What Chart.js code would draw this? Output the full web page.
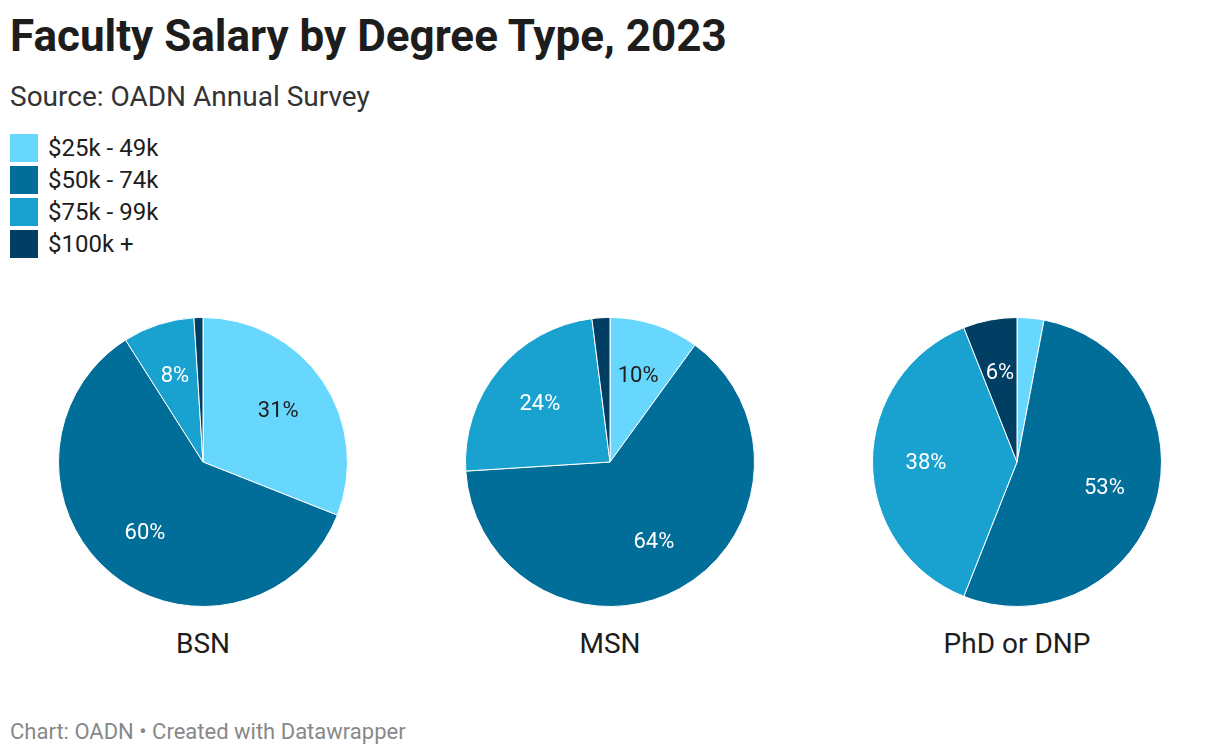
<!DOCTYPE html>
<html>
<head>
<meta charset="utf-8">
<script src="https://cdn.jsdelivr.net/npm/chart.js@4"></script>
<style>
  body { margin: 0; width: 1220px; height: 756px; background: #fff; font-family: Roboto, sans-serif; position: relative; overflow: hidden; }
  h1 { position: absolute; left: 10px; top: 10px; margin: 0; font-size: 44px; font-weight: 700; color: #1d1d1d; line-height: 52px; }
  .sub { position: absolute; left: 10px; top: 80px; font-size: 28px; color: #333; line-height: 34px; }
  .legend { position: absolute; left: 10px; top: 134px; }
  .legend div { height: 32px; display: flex; align-items: flex-start; font-size: 24px; color: #1d1d1d; }
  .legend span.sw { width: 28px; height: 28px; margin-right: 10px; display: inline-block; }
  .legend span.tx { line-height: 28px; }
  canvas { position: absolute; top: 317px; }
  .cat { position: absolute; top: 627px; width: 300px; text-align: center; font-size: 28px; line-height: 34px; color: #1d1d1d; }
  .foot { position: absolute; left: 10px; top: 719px; font-size: 22px; line-height: 26px; color: #888; }
</style>
</head>
<body>
<h1>Faculty Salary by Degree Type, 2023</h1>
<div class="sub">Source: OADN Annual Survey</div>
<div class="legend" id="legend"></div>
<canvas id="c0" width="290" height="290" style="left:58px"></canvas>
<canvas id="c1" width="290" height="290" style="left:465px"></canvas>
<canvas id="c2" width="290" height="290" style="left:872px"></canvas>
<div class="cat" style="left:53px">BSN</div>
<div class="cat" style="left:460px">MSN</div>
<div class="cat" style="left:867px">PhD or DNP</div>
<div class="foot">Chart: OADN • Created with Datawrapper</div>
<script>
const salaryBands = ["$25k - 49k", "$50k - 74k", "$75k - 99k", "$100k +"];
const bandColors = ["#68d7fd", "#006e98", "#19a2cf", "#003e63"];
const labelColors = ["#1d1d1d", "#ffffff", "#ffffff", "#ffffff"];
const bsn = [31, 60, 8, 1];
const msn = [10, 64, 24, 2];
const phd = [3, 53, 38, 6];

// legend
const legend = document.getElementById("legend");
salaryBands.forEach((b, i) => {
    const row = document.createElement("div");
    row.innerHTML = '<span class="sw" style="background:' + bandColors[i] + '"></span><span class="tx">' + b + '</span>';
    legend.appendChild(row);
});

// percentage labels inside the slices
const sliceLabels = {
    id: "sliceLabels",
    afterDatasetsDraw(chart) {
        const ctx = chart.ctx;
        const meta = chart.getDatasetMeta(0);
        const data = chart.data.datasets[0].data;
        ctx.save();
        ctx.font = "22px Roboto";
        ctx.textAlign = "center";
        ctx.textBaseline = "middle";
        meta.data.forEach((arc, i) => {
            if (data[i] < 5) return;
            const mid = (arc.startAngle + arc.endAngle) / 2;
            const r = arc.outerRadius * 0.63;
            ctx.fillStyle = labelColors[i];
            ctx.fillText(data[i] + "%", arc.x + Math.cos(mid) * r, arc.y + Math.sin(mid) * r + 1);
        });
        ctx.restore();
    }
};

[bsn, msn, phd].forEach((vals, k) => {
    new Chart(document.getElementById("c" + k), {
        type: "pie",
        data: {
            labels: salaryBands,
            datasets: [{
                data: vals,
                backgroundColor: bandColors,
                borderColor: "#ffffff",
                borderWidth: 1
            }]
        },
        options: {
            responsive: false,
            animation: false,
            plugins: { legend: { display: false }, tooltip: { enabled: false } }
        },
        plugins: [sliceLabels]
    });
});
</script>
</body>
</html>
